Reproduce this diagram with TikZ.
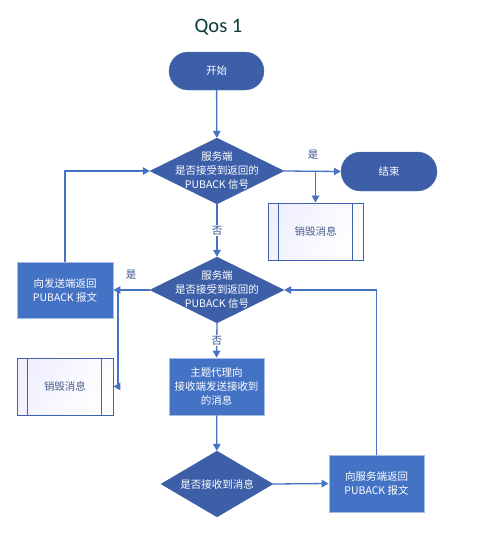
\documentclass[tikz,border=0pt]{standalone}
\usepackage{fontspec}
\setmainfont{Noto Sans CJK SC}
\newfontfamily\titlefont{Carlito}
\usepackage{tikz}
\usetikzlibrary{shapes.geometric,shapes.misc,arrows.meta}
\definecolor{darkfill}{HTML}{3C5FA8}
\definecolor{boxfill}{HTML}{4472C4}
\definecolor{boxedge}{HTML}{A4BBE2}
\definecolor{flow}{HTML}{4472C4}
\definecolor{deledge}{HTML}{3D62AE}
\definecolor{deltext}{HTML}{4A5E8C}
\definecolor{yesno}{HTML}{34508A}
\definecolor{titlecol}{HTML}{0D3B3B}
\tikzset{
  txt/.style={font=\fontsize{10.5}{14}\selectfont,align=center,text=white},
  terminal/.style={rounded rectangle,fill=darkfill,draw=darkfill!90!white,
    minimum width=95pt,minimum height=38pt,inner sep=0pt,txt},
  decision/.style={diamond,fill=darkfill,draw=darkfill,inner sep=0pt},
  process/.style={rectangle,fill=boxfill,draw=boxedge,line width=0.8pt,
    minimum width=95pt,minimum height=56pt,inner sep=0pt,txt},
  predef/.style={rectangle,draw=deledge,line width=0.9pt,left color=blue!6!white,
    right color=white,shading angle=60,minimum width=95pt,minimum height=57pt,
    inner sep=0pt,txt,text=deltext},
  yn/.style={font=\fontsize{10.5}{12}\selectfont,text=yesno,inner sep=1pt},
  flowline/.style={draw=flow,line width=1.3pt,-{Triangle[length=7pt,width=7.5pt]}}
}
\def\dflow{\draw[flowline]}
\def\inner{\draw[deledge,line width=0.9pt]}

\begin{document}
\begin{tikzpicture}[x=1pt,y=-1pt]
  \useasboundingbox (0,0) rectangle (490,550);
  \node[font=\titlefont\fontsize{20.5}{24}\selectfont,text=titlecol] (title) at (218.5,27) {Qos 1};

  \node[terminal] (start) at (216.5,71) {开始};
  \node[decision,minimum width=134pt,minimum height=66pt,
        label={[txt]center:服务端\\是否接受到返回的\\PUBACK 信号}] (d1) at (217,171) {};
  \node[terminal,minimum width=96pt,minimum height=39pt] (stop) at (389,171.5) {结束};
  \node[predef] (del1) at (315.5,231.5) {销毁消息};
  \node[decision,minimum width=134pt,minimum height=66pt,
        label={[txt]center:服务端\\是否接受到返回的\\PUBACK 信号}] (d2) at (217,290) {};
  \node[process,minimum width=96pt] (lbox) at (65,290) {向发送端返回\\PUBACK 报文};
  \node[predef,minimum width=96pt] (del2) at (65,386.5) {销毁消息};
  \node[process,minimum height=57pt] (proc) at (216.5,386.5) {主题代理向\\接收端发送接收到\\的消息};
  \node[decision,minimum width=112pt,minimum height=66pt,
        label={[txt]center:是否接收到消息}] (d3) at (217,484) {};
  \node[process,minimum height=57pt] (rbox) at (376.5,483.5) {向服务端返回\\PUBACK 报文};

  \inner ([xshift=11pt]del1.north west) -- ([xshift=11pt]del1.south west);
  \inner ([xshift=-11pt]del1.north east) -- ([xshift=-11pt]del1.south east);
  \inner ([xshift=11pt]del2.north west) -- ([xshift=11pt]del2.south west);
  \inner ([xshift=-12pt]del2.north east) -- ([xshift=-12pt]del2.south east);

  \coordinate (b1) at (315.5,171);
  \coordinate (b2) at (118,290);
  \dflow (start) -- (d1);
  \dflow (d1.east) -- (stop.west);
  \dflow (b1) -- (del1.north);
  \dflow (d1.south) -- node[yn,fill=white] (no1) {否} (d2.north);
  \dflow (lbox.north) |- (d1.west);
  \dflow (d2.west) -- (lbox.east);
  \dflow (b2) |- (del2.east);
  \dflow (d2.south) -- node[yn,fill=white] (no2) {否} (proc.north);
  \dflow (proc) -- (d3);
  \dflow (d3.east) -- (rbox.west);
  \dflow (rbox.north) |- (d2.east);
  \node[yn] (yes1) at (313,155) {是};
  \node[yn] (yes2) at (131,275) {是};
\end{tikzpicture}
\end{document}
